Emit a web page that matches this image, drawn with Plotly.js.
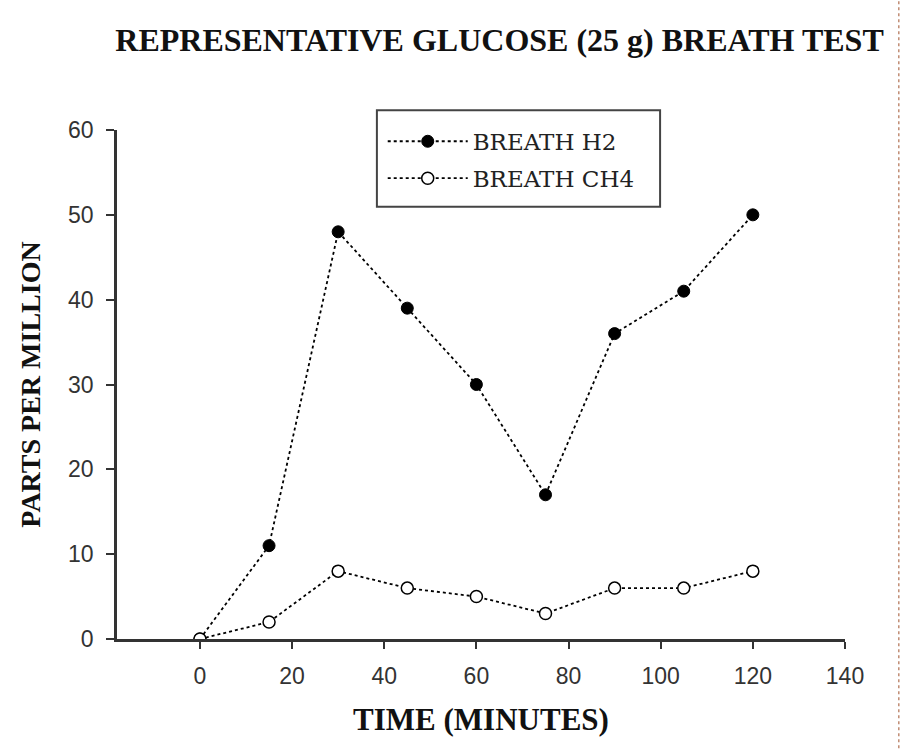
<!DOCTYPE html>
<html>
<head>
<meta charset="utf-8">
<script src="https://cdn.plot.ly/plotly-3.0.1.min.js"></script>
<style>
  html, body { margin: 0; padding: 0; background: #fff; }
  #graph { width: 900px; height: 751px; }
</style>
</head>
<body>
<div id="graph"></div>
<script>
const minutes = [0, 15, 30, 45, 60, 75, 90, 105, 120];
const breathH2 = [0, 11, 48, 39, 30, 17, 36, 41, 50];
const breathCH4 = [0, 2, 8, 6, 5, 3, 6, 6, 8];
const xTicks = [0, 20, 40, 60, 80, 100, 120, 140];
const yTicks = [0, 10, 20, 30, 40, 50, 60];

const serif = 'Liberation Serif, Times New Roman, serif';
const sans = 'Liberation Sans, Arial, sans-serif';

const traceH2 = {
  x: minutes,
  y: breathH2,
  mode: 'lines+markers',
  name: 'BREATH H2',
  legendgroup: 'h2',
  line: { color: '#000', width: 1.8, dash: 'dot' },
  marker: { size: 12, color: '#000', line: { color: '#000', width: 1 } }
};
const traceCH4 = {
  x: minutes,
  y: breathCH4,
  mode: 'lines+markers',
  name: 'BREATH CH4',
  legendgroup: 'ch4',
  line: { color: '#000', width: 1.8, dash: 'dot' },
  marker: { size: 12, color: '#fff', line: { color: '#000', width: 1.5 } }
};

const layout = {
  width: 900,
  height: 751,
  margin: { l: 117, r: 55, t: 130, b: 112, pad: 0 },
  paper_bgcolor: '#fff',
  plot_bgcolor: '#fff',
  showlegend: true,
  title: {
    text: 'REPRESENTATIVE GLUCOSE (25 g) BREATH TEST',
    font: { family: serif, size: 32, color: '#111', weight: 'bold' },
    x: 0.555, xanchor: 'center',
    y: 0.947, yanchor: 'middle'
  },
  xaxis: {
    range: [-18, 140],
    tickvals: xTicks,
    ticks: 'outside', ticklen: 7, tickwidth: 2, tickcolor: '#333',
    showline: true, linecolor: '#333', linewidth: 2.5,
    showgrid: false, zeroline: false,
    ticklabelstandoff: 8,
    tickfont: { family: sans, size: 23, color: '#333' },
    title: {
      text: 'TIME (MINUTES)',
      font: { family: serif, size: 31, color: '#111', weight: 'bold' },
      standoff: 20
    }
  },
  yaxis: {
    range: [0, 60],
    tickvals: yTicks,
    ticks: 'outside', ticklen: 8, tickwidth: 2, tickcolor: '#333',
    showline: true, linecolor: '#333', linewidth: 2.5,
    showgrid: false, zeroline: false,
    ticklabelstandoff: 8,
    tickfont: { family: sans, size: 23, color: '#333' },
    title: {
      text: 'PARTS PER MILLION',
      font: { family: serif, size: 28, color: '#111', weight: 'bold' },
      standoff: 20
    }
  },
  legend: {
    x: 0.365, y: 1.02,
    xanchor: 'left', yanchor: 'top',
    bgcolor: 'rgba(0,0,0,0)',
    borderwidth: 0,
    traceorder: 'grouped',
    tracegroupgap: 4,
    font: { family: 'DejaVu Serif, serif', size: 23, color: '#222' },
    itemwidth: 80
  },
  shapes: [{
    type: 'rect', xref: 'paper', yref: 'paper',
    x0: 0.357, x1: 0.746, y0: 0.849, y1: 1.039,
    line: { color: '#444', width: 2 },
    fillcolor: 'rgba(0,0,0,0)'
  }, {
    type: 'line', xref: 'paper', yref: 'paper',
    x0: 1.074, x1: 1.074, y0: -0.25, y1: 1.3,
    line: { color: '#a0522d', width: 1, dash: 'dot' }
  }]
};

Plotly.newPlot('graph', [traceH2, traceCH4], layout, { displayModeBar: false });
</script>
</body>
</html>
